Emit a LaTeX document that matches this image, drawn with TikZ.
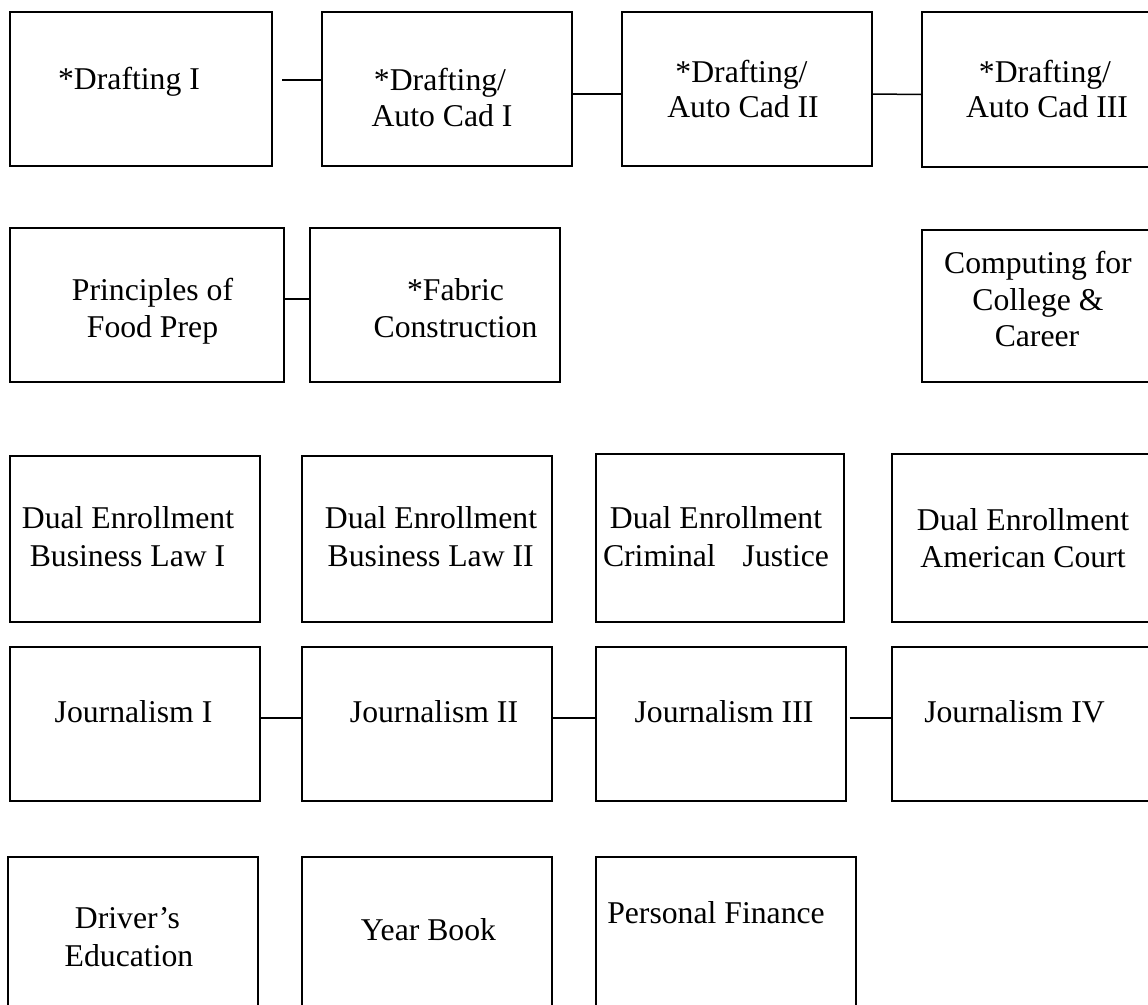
\documentclass[tikz,border=0pt]{standalone}
\usepackage{fontspec}
\setmainfont{Liberation Serif}
\begin{document}
\begin{tikzpicture}[x=1pt,y=-1pt,
  box/.style={draw=black,line width=2pt,rectangle,inner sep=0pt},
  conn/.style={draw=black,line width=1.5pt},
  txt/.style={anchor=base,inner sep=0pt,font=\fontsize{31.7}{38}\selectfont}]
\useasboundingbox (0,0) rectangle (1148,1004);
\clip (0,0) rectangle (1148,1004);
\fill[white] (0,0) rectangle (1148,1004);
% row 1
\node[box,minimum width=262pt,minimum height=154pt] (a) at (141,89) {};
\node[box,minimum width=250pt,minimum height=154pt] (b) at (447,89) {};
\node[box,minimum width=250pt,minimum height=154pt] (c) at (747,89) {};
\node[box,minimum width=250pt,minimum height=155pt] (d) at (1047,89.5) {};
\node[txt] (ta) at (129,89) {*Drafting I};
\node[txt] (tb1) at (440,90) {*Drafting/};
\node[txt] (tb2) at (442,126) {Auto Cad I};
\node[txt] (tc1) at (741.5,82) {*Drafting/};
\node[txt] (tc2) at (743,117) {Auto Cad II};
\node[txt] (td1) at (1045,82) {*Drafting/};
\node[txt] (td2) at (1047,117) {Auto Cad III};
\draw[conn] ([xshift=9pt,yshift=9pt]a.east) -- ([yshift=9pt]b.west);
\draw[conn] ([yshift=-5pt]b.east) -- ([yshift=-5pt]c.west);
\draw[conn] ([yshift=-5pt]c.east) -- ([yshift=-5pt]d.west);
% row 2
\node[box,minimum width=274pt,minimum height=154pt] (e) at (147,305) {};
\node[box,minimum width=250pt,minimum height=154pt] (f) at (435,305) {};
\node[box,minimum width=250pt,minimum height=152pt] (g) at (1047,306) {};
\node[txt] (te1) at (152.5,300) {Principles of};
\node[txt] (te2) at (152.5,337.7) {Food Prep};
\node[txt] (tf1) at (455.5,300) {*Fabric};
\node[txt] (tf2) at (455.5,337.7) {Construction};
\node[txt] (tg1) at (1038,273) {Computing for};
\node[txt] (tg2) at (1038,310) {College \&};
\node[txt] (tg3) at (1037,346.7) {Career};
\draw[conn] ([yshift=6pt]e.east) -- ([yshift=6pt]f.west);
% row 3
\node[box,minimum width=250pt,minimum height=166pt] (h) at (135,539) {};
\node[box,minimum width=250pt,minimum height=166pt] (i) at (427,539) {};
\node[box,minimum width=248pt,minimum height=168pt] (cj) at (720,538) {};
\node[box,minimum width=268pt,minimum height=168pt] (m) at (1026,538) {};
\node[txt] (th1) at (128,528) {Dual Enrollment};
\node[txt] (th2) at (127.5,566) {Business Law I};
\node[txt] (ti1) at (431,528) {Dual Enrollment};
\node[txt] (ti2) at (430.7,566) {Business Law II};
\node[txt] (tcj1) at (716,528) {Dual Enrollment};
\node[txt] (tcj2) at (716,566) {Criminal\hspace{27pt}Justice};
\node[txt] (tm1) at (1023,530) {Dual Enrollment};
\node[txt] (tm2) at (1023,567) {American Court};
% row 4
\node[box,minimum width=250pt,minimum height=154pt] (j) at (135,724) {};
\node[box,minimum width=250pt,minimum height=154pt] (k) at (427,724) {};
\node[box,minimum width=250pt,minimum height=154pt] (l) at (721,724) {};
\node[box,minimum width=268pt,minimum height=154pt] (n) at (1026,724) {};
\node[txt] (tj) at (133.5,722.7) {Journalism I};
\node[txt] (tk) at (434,722.7) {Journalism II};
\node[txt] (tl) at (724,722.7) {Journalism III};
\node[txt] (tn) at (1014.5,722.7) {Journalism IV};
\draw[conn] ([yshift=6pt]j.east) -- ([yshift=6pt]k.west);
\draw[conn] ([yshift=6pt]k.east) -- ([yshift=6pt]l.west);
\draw[conn] ([xshift=2.5pt,yshift=6pt]l.east) -- ([yshift=6pt]n.west);
% row 5
\node[box,minimum width=250pt,minimum height=180pt] (o) at (133,947) {};
\node[box,minimum width=250pt,minimum height=180pt] (p) at (427,947) {};
\node[box,minimum width=260pt,minimum height=180pt] (q) at (726,947) {};
\node[txt] (to1) at (127.5,928) {Driver’s};
\node[txt] (to2) at (129,966) {Education};
\node[txt] (tp) at (428.5,940) {Year Book};
\node[txt] (tq) at (716,923) {Personal Finance};
\end{tikzpicture}
\end{document}
